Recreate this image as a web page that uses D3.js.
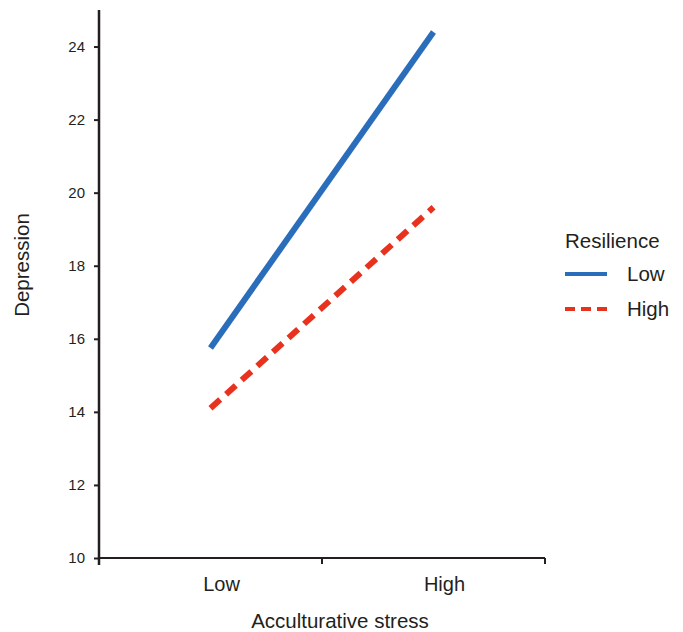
<!DOCTYPE html>
<html>
<head>
<meta charset="utf-8">
<script src="https://cdn.jsdelivr.net/npm/d3@7"></script>
<style>
    body { margin: 0; background: #fff; }
    text { font-family: "Liberation Sans", Arial, sans-serif; fill: #231f20; }
</style>
</head>
<body>
<div id="chart"></div>
<script>
const stressLevels = ["Low", "High"];
const resilienceGroups = ["Low", "High"];
const lowResilience = [15.75, 24.4];
const highResilience = [14.1, 19.6];
const yTicks = [10, 12, 14, 16, 18, 20, 22, 24];

const colors = ["#2a6ebb", "#e8321e"];
const dashes = [null, "13,8"];

const margin = { top: 10, left: 99, right: 138, bottom: 74 };
const W = 683, H = 632;
const width = W - margin.left - margin.right;
const height = H - margin.top - margin.bottom;

const svg = d3.select("#chart")
    .append("svg")
    .attr("width", W)
    .attr("height", H);

const g = svg.append("g")
    .attr("transform", `translate(${margin.left},${margin.top})`);

const x = d3.scaleBand()
    .domain(stressLevels)
    .range([0, width]);

const y = d3.scaleLinear()
    .domain([10, 25])
    .range([height, 0]);

// x axis: ticks at band edges, labels near band centres
const xAxis = g.append("g").attr("transform", `translate(0,${height})`);
xAxis.append("line")
    .attr("x1", 0).attr("x2", width)
    .attr("stroke", "#231f20").attr("stroke-width", 2);
xAxis.selectAll(".edge")
    .data([0, width / 2, width])
    .enter()
    .append("line")
    .attr("x1", d => d).attr("x2", d => d)
    .attr("y1", 0).attr("y2", 6)
    .attr("stroke", "#231f20").attr("stroke-width", 2);
xAxis.selectAll(".lbl")
    .data(stressLevels)
    .enter()
    .append("text")
    .attr("x", d => x(d) + x.bandwidth() / 2 + 11)
    .attr("y", 33)
    .attr("text-anchor", "middle")
    .style("font-size", "20px")
    .text(d => d);

// y axis
const yAxis = g.append("g")
    .call(d3.axisLeft(y).tickValues(yTicks).tickSize(5).tickPadding(9));
yAxis.select(".domain")
    .attr("d", `M0,${height + 7}V0`)
    .attr("stroke", "#231f20").attr("stroke-width", 2.5);
yAxis.selectAll(".tick line").attr("stroke", "#231f20").attr("stroke-width", 2);
yAxis.selectAll(".tick text")
    .attr("fill", "#231f20")
    .style("font-family", "'Liberation Sans', Arial, sans-serif")
    .style("font-size", "15px");

// axis titles
g.append("text")
    .attr("x", 241)
    .attr("y", height + 70)
    .attr("text-anchor", "middle")
    .style("font-size", "20.5px")
    .text("Acculturative stress");

g.append("text")
    .attr("transform", "rotate(-90)")
    .attr("x", -255)
    .attr("y", -70)
    .attr("text-anchor", "middle")
    .style("font-size", "20.5px")
    .text("Depression");

// lines
const seriesData = [lowResilience, highResilience];
const line = d3.line()
    .x((d, i) => x(stressLevels[i]) + x.bandwidth() / 2)
    .y(d => y(d));

g.selectAll(".series")
    .data(seriesData)
    .enter()
    .append("path")
    .attr("d", d => line(d))
    .attr("fill", "none")
    .attr("stroke", (d, i) => colors[i])
    .attr("stroke-width", 6)
    .attr("stroke-dasharray", (d, i) => dashes[i]);

// legend
const legend = svg.append("g").attr("transform", "translate(565,248)");
legend.append("text")
    .attr("x", 0).attr("y", 0)
    .style("font-size", "20.5px")
    .text("Resilience");
resilienceGroups.forEach((name, i) => {
    const ly = 26 + i * 35;
    legend.append("line")
        .attr("x1", 0).attr("x2", 42)
        .attr("y1", ly).attr("y2", ly)
        .attr("stroke", colors[i])
        .attr("stroke-width", 4)
        .attr("stroke-dasharray", dashes[i] ? "10,6" : null);
    legend.append("text")
        .attr("x", 62).attr("y", ly + 7)
        .style("font-size", "20.5px")
        .text(name);
});
</script>
</body>
</html>
